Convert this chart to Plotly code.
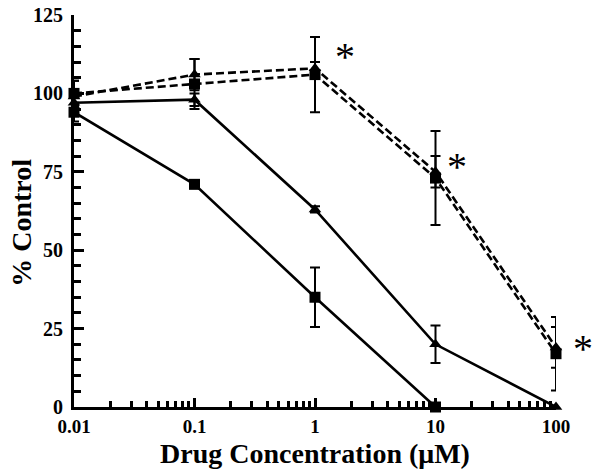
import plotly.graph_objects as go
import math

conc = [0.01, 0.1, 1, 10, 100]

# Solid square series
sq_solid = [94, 71, 35, 0, None]
sq_solid_err = [3, 1, 9.5, 0, 0]
# Solid triangle series
tri_solid = [97, 98, 63, 20, 0]
tri_solid_err = [3, 2, 1, 6, 0]
# Dashed square series
sq_dash = [100, 103, 106, 73, 17]
sq_dash_err = [4, 8, 12, 15, 11.7]
# Dashed triangle series
tri_dash = [99, 106, 108, 75, 19]
tri_dash_err = [5, 5, 2, 5, 6.5]

star_x = [1.78, 15.2, 167]
star_y = [114, 79, 21]

y_ticks = [0, 25, 50, 75, 100, 125]
x_ticks = [0.01, 0.1, 1, 10, 100]
x_labels = ["0.01", "0.1", "1", "10", "100"]
x_minor = [m * d for d in [0.01, 0.1, 1, 10] for m in range(2, 10)]

FONT = "Liberation Serif"
XMIN, XMAX = -2, 2

fig = go.Figure()

def add(y, err, symbol, dash):
    fig.add_trace(go.Scatter(
        x=conc, y=y, mode="lines+markers",
        line=dict(color="black", width=2.6, dash=dash),
        marker=dict(symbol=symbol, size=11, color="black"),
        error_y=dict(type="data", array=err, visible=True, color="black",
                     thickness=2, width=5),
        cliponaxis=False, showlegend=False, connectgaps=False,
    ))

add(sq_dash, sq_dash_err, "square", "8px,4px")
add(tri_dash, tri_dash_err, "triangle-up", "8px,4px")
add(sq_solid, sq_solid_err, "square", "solid")
add(tri_solid, tri_solid_err, "triangle-up", "solid")

for sx, sy in zip(star_x, star_y):
    fig.add_annotation(x=(math.log10(sx) - XMIN) / (XMAX - XMIN), xref="paper",
                       xanchor="center", yanchor="middle",
                       y=sy, yref="y", text="*", showarrow=False,
                       font=dict(family=FONT, size=40, color="black"),
                       yshift=-7)

fig.add_annotation(text="% Control", textangle=-90, xref="paper", yref="paper",
                   x=0, y=0.47, xanchor="center", yanchor="middle", xshift=-52,
                   showarrow=False, font=dict(family=FONT, size=28, color="black", weight="bold"))

fig.update_layout(
    width=602, height=475,
    margin=dict(l=74, r=46, t=15, b=68),
    plot_bgcolor="white", paper_bgcolor="white",
    font=dict(family=FONT, color="black"),
)
fig.update_xaxes(
    type="log", range=[XMIN, XMAX], tickvals=x_ticks, ticktext=x_labels,
    showline=True, linecolor="black", linewidth=3,
    ticks="inside", ticklen=9, tickwidth=2.5, tickcolor="black",
    minor=dict(ticks="inside", tickmode="array", tickvals=x_minor, ticklen=6,
               tickwidth=2.5, tickcolor="black", showgrid=False),
    showgrid=False, zeroline=False, automargin=False,
    tickfont=dict(family=FONT, size=19, weight="bold"),
    title=dict(text="Drug Concentration (μM)", font=dict(family=FONT, size=28, weight="bold"), standoff=8),
)
fig.update_yaxes(
    range=[0, 125], tickvals=y_ticks,
    showline=True, linecolor="black", linewidth=3,
    ticks="inside", ticklen=10, tickwidth=3, tickcolor="black",
    minor=dict(ticks="inside", ticklen=7, tickwidth=3, tickcolor="black", dtick=5, showgrid=False),
    showgrid=False, zeroline=False, automargin=False,
    tickfont=dict(family=FONT, size=20, weight="bold"),
    ticklabelstandoff=4,
)

fig.write_html("out.html", config={"displayModeBar": False},
               post_script="document.body.style.margin='0';")
